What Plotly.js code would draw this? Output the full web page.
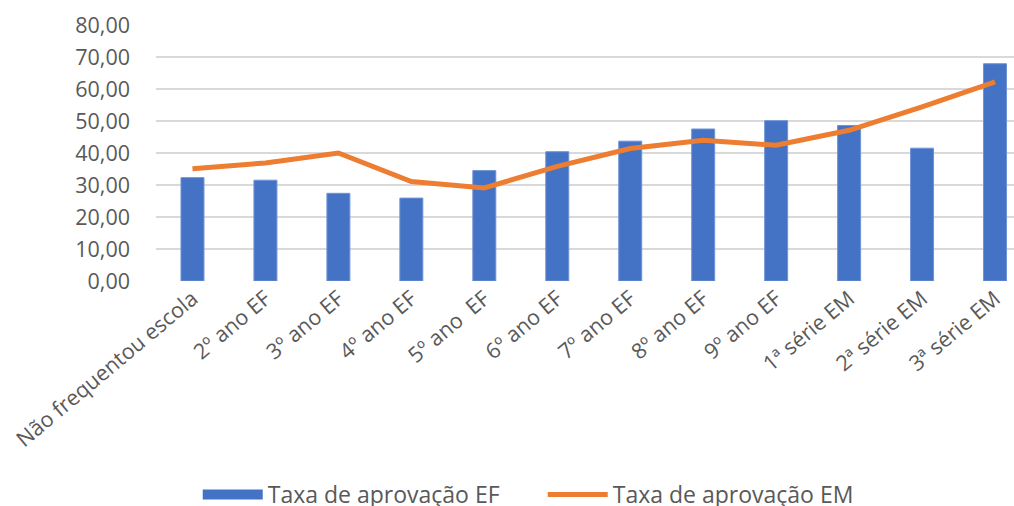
<!DOCTYPE html>
<html>
<head>
<meta charset="utf-8">
<script src="https://cdn.plot.ly/plotly-3.0.1.min.js"></script>
<style>html,body{margin:0;padding:0;overflow:hidden;background:#fff;}</style>
</head>
<body>
<div id="chart" style="width:1014px;height:506px;"></div>
<script>
const categories = ["Não frequentou escola", "2º ano EF", "3º ano EF", "4º ano EF", "5º ano \u00a0EF", "6º ano EF", "7º ano EF", "8º ano EF", "9º ano EF", "1ª série EM", "2ª série EM", "3ª série EM"];
const taxaEF = [32.3, 31.5, 27.4, 25.9, 34.5, 40.4, 43.7, 47.5, 50.1, 48.6, 41.5, 67.9];
const taxaEM = [35.1, 36.9, 40.0, 31.1, 29.1, 35.8, 41.4, 44.0, 42.4, 47.1, 54.4, 62.2];
const yTicks = [0, 10, 20, 30, 40, 50, 60, 70, 80];

const traces = [
  {
    type: 'bar', name: 'Taxa de aprovação EF', showlegend: false, legendgroup: 'ef',
    x: categories, y: taxaEF,
    marker: {color: '#4472C4', line: {color: '#6E93D6', width: 1}},
    width: 0.315
  },
  {
    type: 'scatter', mode: 'lines', name: 'Taxa de aprovação EF', legendgroup: 'ef',
    x: [null], y: [null], showlegend: true,
    line: {color: '#4472C4', width: 12}
  },
  {
    type: 'scatter', mode: 'lines', name: 'Taxa de aprovação EM',
    x: categories, y: taxaEM,
    line: {color: '#ED7D31', width: 5}
  }
];

const layout = {
  width: 1014, height: 506,
  margin: {l: 155.5, r: 0, t: 25, b: 225.3, pad: 0, autoexpand: false},
  paper_bgcolor: '#ffffff', plot_bgcolor: '#ffffff',
  separators: ',.',
  font: {family: 'Open Sans, sans-serif', color: '#595959', size: 18},
  showlegend: true,
  legend: {
    orientation: 'h', yref: 'paper', xref: 'container',
    x: 0.195, xanchor: 'left', y: -0.834, yanchor: 'middle',
    font: {size: 23, color: '#595959'}, itemwidth: 60, entrywidth: 270,
    traceorder: 'normal', tracegroupgap: 0
  },
  xaxis: {
    type: 'category', range: [-0.5, 11.26],
    tickangle: -40, showgrid: false, zeroline: false, showline: false,
    ticks: '', tickfont: {size: 21.5, color: '#595959'}, automargin: false
  },
  yaxis: {
    range: [0, 80], tickvals: yTicks, tickformat: '.2f',
    showgrid: true, gridcolor: '#D9D9D9', gridwidth: 1.5,
    zeroline: false, showline: false, ticks: '',
    ticklabelstandoff: 25,
    tickfont: {size: 21.5, color: '#595959'}, automargin: false
  }
};

Plotly.newPlot('chart', traces, layout, {displayModeBar: false, staticPlot: true});
</script>
</body>
</html>
